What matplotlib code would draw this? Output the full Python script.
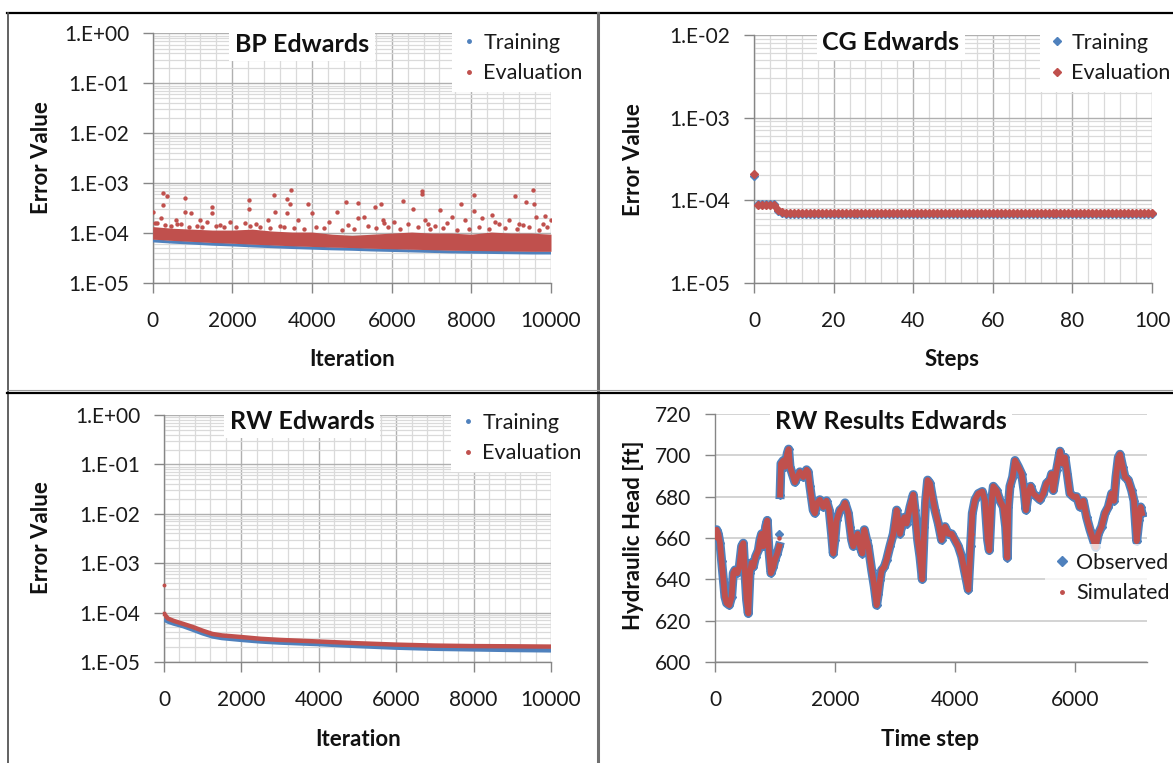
import matplotlib.pyplot as plt
import numpy as np
from matplotlib.lines import Line2D
from matplotlib.ticker import LogLocator, NullFormatter, FuncFormatter

plt.rcParams['font.family'] = ['Lato', 'DejaVu Sans']

BLUE = '#4f81bd'
RED = '#c0504d'
W, H = 1173, 763

# ---------------- BP Edwards ----------------
bp_iter = [0, 500, 1000, 1500, 2000, 2500, 3000, 3500, 4000, 4500, 5000,
           5500, 6000, 6500, 7000, 7500, 8000, 8500, 9000, 9500, 10000]
bp_train = [7.0e-5, 6.6e-5, 6.3e-5, 6.0e-5, 5.8e-5, 5.55e-5, 5.35e-5, 5.15e-5, 5.0e-5, 4.85e-5, 4.75e-5,
            4.6e-5, 4.5e-5, 4.4e-5, 4.3e-5, 4.2e-5, 4.15e-5, 4.1e-5, 4.05e-5, 4.0e-5, 4.0e-5]
bp_band_top = [1.35e-4, 1.25e-4, 1.2e-4, 1.15e-4, 1.15e-4, 1.2e-4, 1.1e-4, 1.05e-4, 1.05e-4, 9.5e-5, 9.0e-5,
               9.5e-5, 1.0e-4, 1.05e-4, 1.0e-4, 1.0e-4, 9.5e-5, 1.05e-4, 1.0e-4, 1.0e-4, 9.5e-5]
bp_out_x = [250, 365, 250, 19, 816, 816, 970, 1500, 1500, 1180, 2411, 2411, 3045, 3065, 3372, 3468,
            3439, 3372, 3900, 3996, 4620, 4861, 5149, 5149, 5581, 5744, 6282, 6542, 6763, 6763,
            7214, 7742, 8079, 8079, 8511, 9087, 9376, 9549, 9568, 9856, 10000,
            200, 586, 1354, 1931, 2315, 2892, 3660, 4428, 5293, 5773, 6061, 6830, 7502, 7838,
            8270, 8943, 9616, 120, 700, 1700, 2600, 3200, 4100, 4900, 5400, 6400, 7100, 8700, 9300,
            60, 300, 450, 620, 900, 1100, 1250, 1600, 1800, 2100, 2450, 2700, 2950, 3300, 3550,
            3800, 4300, 4750, 5050, 5600, 5900, 6200, 6650, 6950, 7300, 7650, 7950, 8200, 8450,
            8850, 9150, 9450, 9700, 9900, 5800, 6900, 7400, 8600, 9200, 9800]
bp_out_y = [6.4e-4, 5.5e-4, 3.6e-4, 2.7e-4, 5.1e-4, 2.7e-4, 2.5e-4, 3.3e-4, 2.5e-4, 1.8e-4, 4.7e-4,
            3.1e-4, 5.7e-4, 2.7e-4, 4.9e-4, 7.4e-4, 3.8e-4, 2.5e-4, 3.8e-4, 2.5e-4, 2.7e-4, 4.2e-4,
            4.0e-4, 2.0e-4, 3.4e-4, 3.8e-4, 4.5e-4, 3.1e-4, 6.9e-4, 6.0e-4, 2.9e-4, 3.8e-4, 5.7e-4,
            2.8e-4, 2.3e-4, 5.5e-4, 4.2e-4, 7.2e-4, 3.8e-4, 2.2e-4, 1.8e-4,
            2.0e-4, 1.8e-4, 1.7e-4, 1.7e-4, 1.6e-4, 1.8e-4, 1.8e-4, 1.7e-4, 2.1e-4, 1.8e-4, 1.7e-4,
            1.8e-4, 2.1e-4, 1.8e-4, 2.0e-4, 1.8e-4, 2.1e-4, 1.6e-4, 1.5e-4, 1.45e-4, 1.5e-4, 1.4e-4,
            1.35e-4, 1.45e-4, 1.4e-4, 1.5e-4, 1.4e-4, 1.5e-4, 1.45e-4,
            1.6e-4, 1.45e-4, 1.4e-4, 1.5e-4, 1.35e-4, 1.4e-4, 1.3e-4, 1.4e-4, 1.3e-4, 1.35e-4,
            1.4e-4, 1.3e-4, 1.25e-4, 1.35e-4, 1.25e-4, 1.2e-4, 1.25e-4, 1.15e-4, 1.2e-4, 1.25e-4,
            1.3e-4, 1.2e-4, 1.3e-4, 1.2e-4, 1.25e-4, 1.15e-4, 1.2e-4, 1.3e-4, 1.2e-4, 1.25e-4,
            1.2e-4, 1.3e-4, 1.15e-4, 1.3e-4, 1.6e-4, 1.55e-4, 1.6e-4, 1.65e-4, 1.5e-4, 1.55e-4]

# ---------------- CG Edwards ----------------
cg_steps = list(range(0, 101))
cg_train = [1.95e-4] + [9.0e-5] * 5 + [7.5e-5, 7.1e-5] + [6.8e-5] * 93
cg_eval = [2.1e-4] + [8.9e-5] * 5 + [7.7e-5, 7.3e-5] + [7.0e-5] * 93

# ---------------- RW Edwards ----------------
rw_iter = [0, 100, 250, 500, 750, 1000, 1250, 1500, 2000, 2500, 3000, 4000, 5000, 6000, 7000, 8000, 9000, 10000]
rw_train = [7.3e-5, 6.6e-5, 6.0e-5, 5.3e-5, 4.5e-5, 3.8e-5, 3.3e-5, 3.05e-5, 2.8e-5, 2.6e-5, 2.47e-5,
            2.3e-5, 2.1e-5, 1.95e-5, 1.85e-5, 1.8e-5, 1.75e-5, 1.72e-5]
rw_eval = [9.5e-5, 7.6e-5, 6.8e-5, 5.9e-5, 5.1e-5, 4.3e-5, 3.7e-5, 3.45e-5, 3.2e-5, 2.95e-5, 2.8e-5,
           2.6e-5, 2.4e-5, 2.25e-5, 2.15e-5, 2.1e-5, 2.08e-5, 2.05e-5]
rw_eval_out_x = [0]
rw_eval_out_y = [3.6e-4]

# ---------------- RW Results Edwards ----------------
rwr_step = [0, 28, 55, 83, 111, 139, 166, 194, 239, 277, 305, 333, 372, 405, 444, 472, 500, 527, 555,
            583, 611, 638, 677, 722, 749, 777, 805, 844, 871, 899, 932, 971, 1000, 1038, 1070,
            1078,
            1085, 1100, 1138, 1166, 1205, 1227, 1250, 1288, 1332, 1371, 1415, 1471, 1526, 1554, 1582,
            1637, 1665, 1704, 1748, 1804, 1859, 1904, 1943, 1971, 1998, 2026, 2082, 2137, 2167, 2222,
            2250, 2278, 2305, 2333, 2378, 2417, 2455, 2489, 2528, 2555, 2611, 2655, 2694, 2722, 2750,
            2778, 2822, 2861, 2916, 2972, 3028, 3055, 3083, 3111, 3155, 3194, 3250, 3305, 3333, 3378,
            3416, 3455, 3489, 3511, 3544, 3583, 3622, 3666, 3722, 3777, 3833, 3889, 3944, 4000, 4055,
            4111, 4166, 4222, 4261, 4289, 4333, 4389, 4455, 4500, 4544, 4572, 4611, 4639, 4694, 4750,
            4805, 4844, 4872, 4889, 4916, 4961, 5000, 5055, 5111, 5150, 5183, 5222, 5261, 5305, 5361,
            5416, 5472, 5527, 5583, 5611, 5638, 5694, 5750, 5794, 5833, 5872, 5916, 5972, 6028, 6083,
            6139, 6194, 6250, 6305, 6344, 6389, 6444, 6500, 6555, 6611, 6650, 6683, 6722, 6750, 6794,
            6833, 6889, 6944, 6983, 7028, 7066, 7094, 7116]
rwr_obs = [660.5, 664, 662, 657.5, 649, 640, 631.5, 628.5, 627.5, 631.5, 643, 644.5, 643, 646, 656,
           657.5, 643, 630, 623.5, 643, 648, 646, 651, 654, 659, 662, 656, 665.5, 668.5, 654, 643,
           646, 649.5, 652.5, 656,
           np.nan,
           681, 696, 697.5, 694.5, 701, 703, 694.5, 691, 687, 689.5, 692, 689.5, 693, 692, 685,
           673.5, 672, 677, 678.5, 675, 678, 673.5, 662, 652.5, 659, 668.5, 673.5, 675, 677, 672,
           665.5, 659, 656, 659, 662, 656, 652.5, 664, 659, 656, 644.5, 636.5, 627.5, 633, 639.5,
           644.5, 646, 649.5, 656, 662, 673.5, 668.5, 662, 665.5, 670, 667, 675, 681, 673.5, 659,
           651, 640, 665.5, 678, 688, 686.5, 680, 673.5, 667, 659, 665.5, 662, 662, 659, 656,
           651, 643, 635, 656, 672, 678.5, 681.5, 682.5, 678, 659, 654, 678, 685, 683, 678,
           675, 665.5, 650.5, 675, 685, 689.5, 697.5, 694.5, 691, 683, 673.5, 681.5, 685, 681.5, 680,
           678.5, 681.5, 686.5, 688, 691, 683, 693, 702, 696, 699, 691, 681.5, 680, 680, 675,
           678, 670, 664, 659, 655.5, 662, 665.5, 672, 675, 681.5, 678, 689.5, 699, 700.5, 694.5,
           689.5, 688, 683, 678, 658.5, 668.5, 675, 672]
rwr_sim = list(rwr_obs)
rwr_obs_out_x = [1060, 3480, 3500]
rwr_obs_out_y = [662, 669, 677]
rwr_sim_out_x = [1060, 3480, 3500, 4280]
rwr_sim_out_y = [660, 668, 677, 662]


def fx(x):
    return x / W


def fy(y):
    return 1 - y / H


def style_axes(ax):
    for s in ['top', 'right']:
        ax.spines[s].set_visible(False)
    for s in ['left', 'bottom']:
        ax.spines[s].set_color('#868686')
        ax.spines[s].set_linewidth(1)
    ax.tick_params(which='major', length=7, width=1, color='#868686', labelsize=15,
                   labelcolor='#1a1a1a')
    ax.tick_params(axis='x', which='major', pad=13)
    ax.tick_params(axis='y', which='major', pad=10)
    ax.tick_params(which='minor', length=0)
    ax.set_axisbelow(True)


def log_axes(ax, xmax, xmajor, xminor, ylo, yhi):
    ax.set_yscale('log')
    ax.set_ylim(10.0 ** ylo, 10.0 ** yhi)
    ax.set_xlim(0, xmax)
    ax.set_xticks(np.arange(0, xmax + 1, xmajor))
    ax.set_xticks(np.arange(0, xmax + 1, xminor), minor=True)
    ax.yaxis.set_major_locator(LogLocator(base=10, numticks=12))
    ax.yaxis.set_minor_locator(LogLocator(base=10, subs=np.arange(2, 10), numticks=12))
    ax.yaxis.set_minor_formatter(NullFormatter())
    ax.yaxis.set_major_formatter(FuncFormatter(lambda v, p: '1.E{:+03d}'.format(int(round(np.log10(v))))))
    ax.grid(which='major', color='#b0b0b0', lw=1)
    ax.grid(which='minor', color='#dadada', lw=0.9)
    style_axes(ax)


def title_box(cx, cy, text):
    fig.text(fx(cx), fy(cy), text, ha='center', va='center', fontsize=18, fontweight='bold',
             color='#111111', bbox=dict(facecolor='white', edgecolor='none', pad=4), zorder=5)


def legend_at(ax, handles, left, top, alpha=1.0):
    leg = ax.legend(handles=handles, loc='upper left', bbox_to_anchor=(fx(left), fy(top)),
                    bbox_transform=fig.transFigure, fontsize=15.5, frameon=True, fancybox=False,
                    borderaxespad=0, borderpad=0.4, handlelength=0.8, handletextpad=0.25,
                    labelspacing=0.5, framealpha=alpha)
    leg.get_frame().set_facecolor('white')
    leg.get_frame().set_edgecolor('none')
    for t in leg.get_texts():
        t.set_color('#1a1a1a')
    leg.set_zorder(6)


fig = plt.figure(figsize=(W / 100, H / 100), dpi=100)

# ---- BP ----
ax1 = fig.add_axes([fx(152.7), fy(283), fx(551 - 152.7), (283 - 33.5) / H])
log_axes(ax1, 10000, 2000, 400, -5, 0)
ax1.plot(bp_iter, bp_train, color=BLUE, lw=2.2, zorder=3)
ax1.fill_between(bp_iter, np.array(bp_train) * 1.08, bp_band_top, color=RED, lw=0, zorder=3)
ax1.scatter(bp_out_x, bp_out_y, s=10, color=RED, lw=0, zorder=4)
title_box(302, 44, 'BP Edwards')
legend_at(ax1, [Line2D([], [], ls='none', marker='o', ms=2.5, color=BLUE, label='Training'),
                Line2D([], [], ls='none', marker='o', ms=2.5, color=RED, label='Evaluation')], 452, 24)

# ---- CG ----
ax2 = fig.add_axes([fx(754), fy(283), fx(1152 - 754), (283 - 35) / H])
log_axes(ax2, 100, 20, 4, -5, -2)
ax2.plot(cg_steps, cg_train, ls='none', marker='D', ms=4.2, color=BLUE, zorder=3, clip_on=False)
ax2.plot(cg_steps, cg_eval, ls='none', marker='D', ms=4.2, color=RED, zorder=4, clip_on=False)
title_box(891, 43, 'CG Edwards')
legend_at(ax2, [Line2D([], [], ls='none', marker='D', ms=4, color=BLUE, label='Training'),
                Line2D([], [], ls='none', marker='D', ms=4, color=RED, label='Evaluation')], 1040, 24)

# ---- RW ----
ax3 = fig.add_axes([fx(164), fy(662), fx(551 - 164), (662 - 415) / H])
log_axes(ax3, 10000, 2000, 400, -5, 0)
ax3.plot(rw_iter, rw_train, color=BLUE, lw=3.2, zorder=3, solid_capstyle='butt')
ax3.plot(rw_iter, rw_eval, color=RED, lw=3.2, zorder=4, solid_capstyle='butt')
ax3.plot([0, 0], [rw_eval[0], 1.0e-4], color=RED, lw=2.5, zorder=4, clip_on=False)
ax3.scatter(rw_eval_out_x, rw_eval_out_y, s=8, color=RED, lw=0, zorder=4, clip_on=False)
title_box(302, 421, 'RW Edwards')
legend_at(ax3, [Line2D([], [], ls='none', marker='o', ms=2.5, color=BLUE, label='Training'),
                Line2D([], [], ls='none', marker='o', ms=2.5, color=RED, label='Evaluation')], 451, 404)

# ---- RW Results ----
ax4 = fig.add_axes([fx(715), fy(662), fx(1147 - 715), (662 - 414) / H])
ax4.set_xlim(0, 7200)
ax4.set_ylim(600, 720)
ax4.set_xticks([0, 2000, 4000, 6000])
ax4.set_yticks(np.arange(600, 721, 20))
ax4.grid(axis='y', color='#d0d0d0', lw=1.3)
style_axes(ax4)
ax4.plot(rwr_step, rwr_obs, color=BLUE, lw=6.5, marker='D', ms=4, zorder=3, solid_joinstyle='round')
ax4.plot(rwr_step, rwr_sim, color=RED, lw=4.2, zorder=4, solid_joinstyle='round')
ax4.plot(rwr_obs_out_x, rwr_obs_out_y, ls='none', marker='D', ms=4.5, color=BLUE, zorder=3)
ax4.plot(rwr_sim_out_x, rwr_sim_out_y, ls='none', marker='o', ms=2.2, color=RED, zorder=4)
title_box(891, 421, 'RW Results Edwards')
legend_at(ax4, [Line2D([], [], ls='none', marker='D', ms=5, color=BLUE, label='Observed'),
                Line2D([], [], ls='none', marker='o', ms=2.5, color=RED, label='Simulated')], 1045, 544,
          alpha=0.75)

# axis labels
lab = dict(fontsize=16, fontweight='bold', color='#111111', ha='center', va='center')
fig.text(fx(42), fy(158), 'Error Value', rotation=90, **lab)
fig.text(fx(352), fy(360), 'Iteration', **lab)
fig.text(fx(633), fy(160), 'Error Value', rotation=90, **lab)
fig.text(fx(952), fy(360), 'Steps', **lab)
fig.text(fx(41), fy(538), 'Error Value', rotation=90, **lab)
fig.text(fx(358), fy(740), 'Iteration', **lab)
fig.text(fx(633), fy(535), 'Hydraulic Head [ft]', rotation=90, **lab)
fig.text(fx(930), fy(740), 'Time step', **lab)

# panel borders
fig.add_artist(Line2D([fx(7), 1], [fy(13), fy(13)], color='black', lw=1.6))
fig.add_artist(Line2D([fx(7.5), fx(7.5)], [fy(13), 0], color='#555555', lw=1.3))
fig.add_artist(Line2D([fx(598), fx(598)], [fy(13), 0], color='#707070', lw=2.2))
fig.add_artist(Line2D([fx(7), 1], [fy(389.5), fy(389.5)], color='#9a9a9a', lw=0.8))
fig.add_artist(Line2D([fx(7), 1], [fy(392.5), fy(392.5)], color='black', lw=1.6))

fig.savefig('out.png', dpi=100)
